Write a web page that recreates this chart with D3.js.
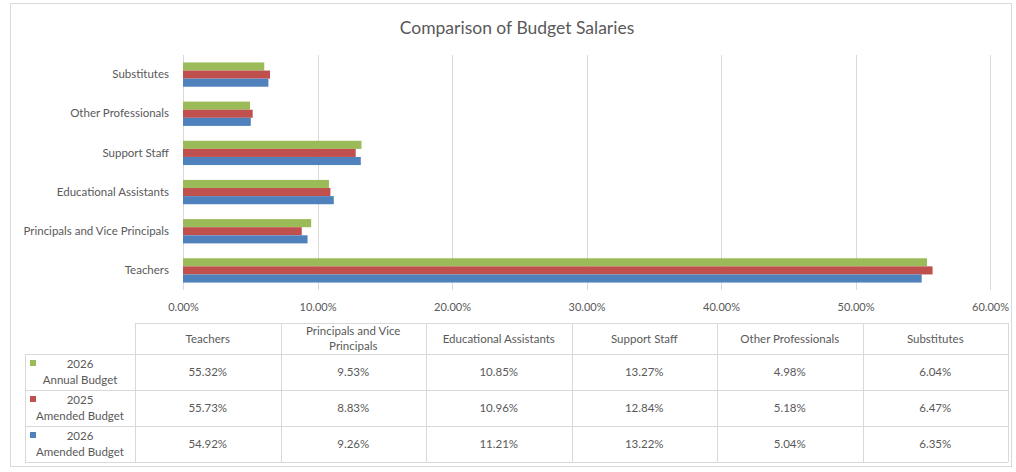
<!DOCTYPE html>
<html>
<head>
<meta charset="utf-8">
<script src="https://cdn.jsdelivr.net/npm/d3@7"></script>
<style>
  html, body { margin: 0; padding: 0; background: #fff; }
  svg { display: block; font-family: Lato, "Open Sans", sans-serif; }
</style>
</head>
<body>
<svg id="chart" width="1016" height="472"></svg>
<script>
// Categories in table order (left to right); the plot lists them bottom to top.
const categories = ["Teachers", "Principals and Vice Principals", "Educational Assistants",
                    "Support Staff", "Other Professionals", "Substitutes"];
const headerLines = [["Teachers"], ["Principals and Vice", "Principals"], ["Educational Assistants"],
                     ["Support Staff"], ["Other Professionals"], ["Substitutes"]];

// Share of budget salaries (%) for each series
const annual2026  = [55.32, 9.53, 10.85, 13.27, 4.98, 6.04];
const amended2025 = [55.73, 8.83, 10.96, 12.84, 5.18, 6.47];
const amended2026 = [54.92, 9.26, 11.21, 13.22, 5.04, 6.35];

const seriesNames = [["2026", "Annual Budget"], ["2025", "Amended Budget"], ["2026", "Amended Budget"]];
const seriesColors = ["#9BBB59", "#C0504D", "#4F81BD"];
const seriesValues = [annual2026, amended2025, amended2026];

const xTicks = [0, 10, 20, 30, 40, 50, 60];

const svg = d3.select("#chart");
const textColor = "#595959";
const gridColor = "#d9d9d9";

// Outer chart frame
svg.append("rect")
  .attr("x", 10.5).attr("y", 3.5).attr("width", 1001).attr("height", 463)
  .attr("fill", "#fff").attr("stroke", "#d9d9d9").attr("stroke-width", 1);

// Title
svg.append("text")
  .attr("x", 517).attr("y", 34)
  .attr("text-anchor", "middle")
  .attr("font-size", 17.5)
  .attr("fill", textColor)
  .text("Comparison of Budget Salaries");

// Scales
const x = d3.scaleLinear().domain([0, 60]).range([183, 990]);
const y = d3.scaleBand().domain(categories.slice().reverse()).range([55, 290]);
const step = y.bandwidth();
const ySub = d3.scaleBand().domain(d3.range(seriesValues.length))
  .range([step * 0.19, step * 0.81]);

// Gridlines
svg.append("g").selectAll("line")
  .data(xTicks)
  .join("line")
  .attr("x1", d => Math.round(x(d)) + 0.5).attr("x2", d => Math.round(x(d)) + 0.5)
  .attr("y1", 55).attr("y2", 290)
  .attr("stroke", gridColor).attr("stroke-width", 1);

// X axis tick labels
const xAxis = d3.axisBottom(x).tickValues(xTicks).tickSize(0).tickPadding(0)
  .tickFormat(d => d.toFixed(2) + "%");
const gx = svg.append("g").attr("transform", "translate(0,302)").call(xAxis);
gx.select(".domain").remove();
gx.selectAll("text")
  .attr("font-family", "Lato, 'Open Sans', sans-serif")
  .attr("font-size", 11).attr("fill", textColor).attr("dy", "0.85em");

// Y axis category labels
const yAxis = d3.axisLeft(y).tickSize(0).tickPadding(14);
const gy = svg.append("g").attr("transform", "translate(183,0)").call(yAxis);
gy.select(".domain").remove();
gy.selectAll("text")
  .attr("font-family", "Lato, 'Open Sans', sans-serif")
  .attr("font-size", 11.5).attr("fill", textColor);

// Bars
const bars = svg.append("g");
seriesValues.forEach((vals, si) => {
  bars.append("g").selectAll("rect")
    .data(categories.map((c, i) => ({ c, v: vals[i] })))
    .join("rect")
    .attr("x", x(0))
    .attr("y", d => y(d.c) + ySub(si))
    .attr("width", d => x(d.v) - x(0))
    .attr("height", ySub.bandwidth())
    .attr("fill", seriesColors[si]);
});

// Data table
const legendX0 = 25, tableX0 = 135, tableX1 = 1008;
const colW = (tableX1 - tableX0) / categories.length;
const headerTop = 323, headerBottom = 354, rowH = 36;
const tbl = svg.append("g").attr("font-size", 11.5).attr("fill", textColor);
const lineAttrs = sel => sel.attr("stroke", gridColor).attr("stroke-width", 1);

// Horizontal rules
tbl.append("line").call(lineAttrs)
  .attr("x1", tableX0).attr("x2", tableX1).attr("y1", headerTop + 0.5).attr("y2", headerTop + 0.5);
for (let r = 0; r <= seriesValues.length; r++) {
  const yy = headerBottom + r * rowH + 0.5;
  tbl.append("line").call(lineAttrs)
    .attr("x1", legendX0).attr("x2", tableX1).attr("y1", yy).attr("y2", yy);
}
// Vertical rules
const tableBottom = headerBottom + seriesValues.length * rowH;
tbl.append("line").call(lineAttrs)
  .attr("x1", legendX0 + 0.5).attr("x2", legendX0 + 0.5).attr("y1", headerBottom).attr("y2", tableBottom);
for (let c = 0; c <= categories.length; c++) {
  const xx = Math.round(tableX0 + c * colW) + 0.5;
  tbl.append("line").call(lineAttrs)
    .attr("x1", xx).attr("x2", xx).attr("y1", headerTop).attr("y2", tableBottom);
}

// Header cells
headerLines.forEach((lines, c) => {
  const cx = tableX0 + (c + 0.5) * colW;
  const cy = (headerTop + headerBottom) / 2;
  const t = tbl.append("text").attr("text-anchor", "middle").attr("fill", textColor);
  lines.forEach((ln, k) => {
    t.append("tspan").attr("x", cx)
      .attr("y", cy + (k - (lines.length - 1) / 2) * 15)
      .attr("dy", "0.35em").text(ln);
  });
});

// Legend cells and values
seriesValues.forEach((vals, r) => {
  const top = headerBottom + r * rowH;
  tbl.append("rect")
    .attr("x", 30).attr("y", top + 6).attr("width", 6).attr("height", 6)
    .attr("fill", seriesColors[r]);
  const t = tbl.append("text").attr("text-anchor", "middle").attr("fill", textColor);
  seriesNames[r].forEach((ln, k) => {
    t.append("tspan").attr("x", 80)
      .attr("y", top + rowH / 2 + (k - 0.5) * 16)
      .attr("dy", "0.35em").text(ln);
  });
  vals.forEach((v, c) => {
    tbl.append("text")
      .attr("x", tableX0 + (c + 0.5) * colW)
      .attr("y", top + rowH / 2).attr("dy", "0.35em")
      .attr("text-anchor", "middle").attr("fill", textColor)
      .text(v.toFixed(2) + "%");
  });
});
</script>
</body>
</html>
